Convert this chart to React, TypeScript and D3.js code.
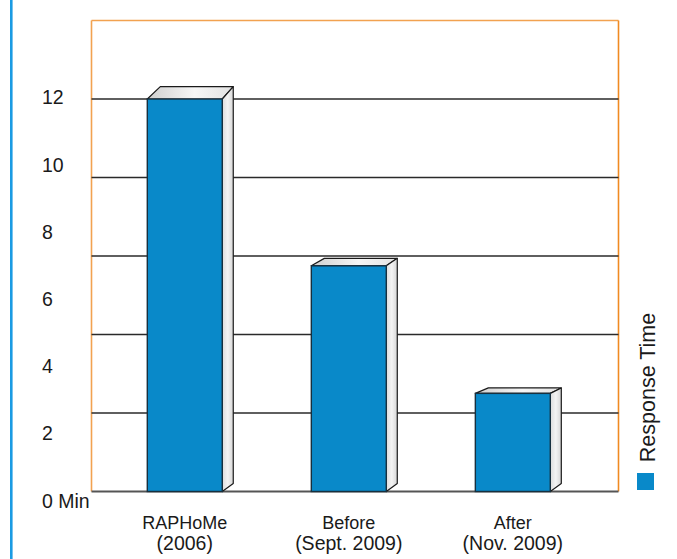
import React from "react";
import * as d3 from "d3";

const labelLine1 = ["RAPHoMe", "Before", "After"];
const labelLine2 = ["(2006)", "(Sept. 2009)", "(Nov. 2009)"];
const responseTime = [12, 6.9, 3];
const tickValues = [0, 2, 4, 6, 8, 10, 12];
const tickLabels = ["0 Min", "2", "4", "6", "8", "10", "12"];
const gridValues = [2.4, 4.8, 7.2, 9.6, 12];
const legendLabel = "Response Time";

const W = 677;
const H = 559;
const frame = { left: 91.5, right: 618.5, top: 20.5, bottom: 491.5 };
const FONT = "'Liberation Sans', Arial, Helvetica, sans-serif";

export default function App() {
  const y = d3.scaleLinear().domain([0, 14.4]).range([frame.bottom, frame.top]);
  const yLabel = d3.scaleLinear().domain([0, 12]).range([507.7, 104.3]);
  const x = d3
    .scaleBand<string>()
    .domain(labelLine1)
    .range([85.3, 612.3])
    .paddingInner(0.543)
    .paddingOuter(0.378);
  const depthTop = d3.scalePow().exponent(2).domain([0, 12]).range([5, 12.4]);
  const dx = 11;
  const dyBottom = 8;

  return (
    <svg
      width={W}
      height={H}
      style={{ position: "absolute", left: 0, top: 0, background: "#fff" }}
      fontFamily={FONT}
    >
      <defs>
        <linearGradient id="topG" x1="0" x2="1" y1="0" y2="0">
          <stop offset="0" stopColor="#cfcfcf" />
          <stop offset="0.55" stopColor="#f6f6f6" />
          <stop offset="1" stopColor="#e2e2e2" />
        </linearGradient>
        <linearGradient id="sideG" x1="0" x2="1" y1="0" y2="0">
          <stop offset="0" stopColor="#dcdcdc" />
          <stop offset="0.5" stopColor="#f4f4f4" />
          <stop offset="1" stopColor="#d6d6d6" />
        </linearGradient>
      </defs>

      {/* left accent line */}
      <line x1={11.3} x2={11.3} y1={0} y2={H} stroke="#1b9be3" strokeWidth={2.6} />

      {/* plot frame */}
      <line x1={frame.left} x2={frame.right} y1={frame.top} y2={frame.top} stroke="#f2a250" strokeWidth={1.6} />
      <line x1={frame.left} x2={frame.left} y1={frame.top} y2={frame.bottom} stroke="#f2a250" strokeWidth={1.6} />
      <line x1={frame.right} x2={frame.right} y1={frame.top} y2={frame.bottom} stroke="#f08a22" strokeWidth={1.6} />

      {/* gridlines */}
      {gridValues.map((g) => (
        <line
          key={g}
          x1={frame.left}
          x2={frame.right}
          y1={y(g)}
          y2={y(g)}
          stroke="#2a2a2a"
          strokeWidth={1.4}
        />
      ))}
      <line
        x1={frame.left}
        x2={frame.right}
        y1={y(0)}
        y2={y(0)}
        stroke="#555"
        strokeWidth={2}
      />

      {/* bars */}
      {responseTime.map((v, i) => {
        const x0 = x(labelLine1[i])!;
        const x1 = x0 + x.bandwidth();
        const yT = y(v);
        const yB = y(0);
        const dt = depthTop(v);
        const top = `M${x0},${yT}L${x1},${yT}L${x1 + dx},${yT - dt}L${x0 + dx + 2},${yT - dt}Z`;
        const side = `M${x1},${yT}L${x1 + dx},${yT - dt}L${x1 + dx},${yB - dyBottom}L${x1},${yB}Z`;
        return (
          <g key={labelLine1[i]}>
            <path d={top} fill="url(#topG)" stroke="#1a1a1a" strokeWidth={1.2} strokeLinejoin="round" />
            <path d={side} fill="url(#sideG)" stroke="#1a1a1a" strokeWidth={1.2} strokeLinejoin="round" />
            <rect
              x={x0}
              y={yT}
              width={x.bandwidth()}
              height={yB - yT}
              fill="#0989c9"
              stroke="#17303f"
              strokeWidth={1.4}
            />
          </g>
        );
      })}

      {/* y tick labels */}
      {tickValues.map((t, i) => (
        <text key={t} x={42} y={yLabel(t)} fontSize={19.5} fill="#1a1a1a">
          {tickLabels[i]}
        </text>
      ))}

      {/* x labels */}
      {labelLine1.map((c, i) => {
        const cx = x(c)! + x.bandwidth() / 2;
        return (
          <text key={c} textAnchor="middle" fill="#1a1a1a">
            <tspan x={cx} y={529} fontSize={18}>{c}</tspan>
            <tspan x={cx} y={549.5} fontSize={19.5}>{labelLine2[i]}</tspan>
          </text>
        );
      })}

      {/* legend */}
      <rect x={637} y={473} width={17} height={17} fill="#0989c9" />
      <text
        transform={`translate(655,387.5) rotate(-90)`}
        textAnchor="middle"
        fontSize={21.5}
        fill="#1a1a1a"
      >
        {legendLabel}
      </text>
    </svg>
  );
}
